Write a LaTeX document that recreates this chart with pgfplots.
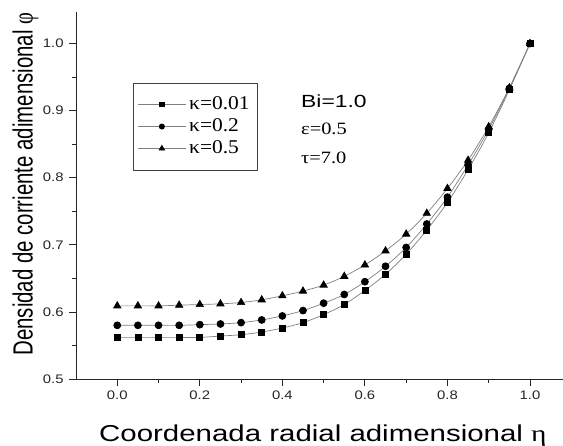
\documentclass[border=0pt]{standalone}
\usepackage{graphicx}
\usepackage{pgfplots}
\pgfplotsset{compat=1.18}
\usepackage{fontspec}
\setmainfont{Liberation Sans}
\newfontfamily\serif{Liberation Serif}

\pgfplotstableread{
x     s     c     t
0.00  0.562 0.580 0.609
0.05  0.562 0.580 0.609
0.10  0.562 0.580 0.609
0.15  0.562 0.580 0.610
0.20  0.562 0.581 0.611
0.25  0.564 0.582 0.612
0.30  0.566 0.584 0.614
0.35  0.570 0.588 0.618
0.40  0.576 0.594 0.624
0.45  0.584 0.602 0.631
0.50  0.596 0.613 0.640
0.55  0.611 0.626 0.653
0.60  0.632 0.645 0.670
0.65  0.656 0.668 0.691
0.70  0.686 0.696 0.716
0.75  0.722 0.731 0.747
0.80  0.763 0.771 0.784
0.85  0.812 0.819 0.826
0.90  0.867 0.872 0.876
0.95  0.931 0.933 0.934
1.00  1.000 1.000 1.000
}\data

\begin{document}
\begin{tikzpicture}
\begin{axis}[
  at={(0,0)}, anchor=south west,
  scale only axis, width=487pt, height=367pt,
  xmin=-0.1, xmax=1.08, ymin=0.5, ymax=1.047,
  axis lines=left,
  axis line style={-, line width=0.8pt, black!85},
  xtick={0,0.2,0.4,0.6,0.8,1.0},
  minor xtick={0.1,0.3,0.5,0.7,0.9},
  ytick={0.5,0.6,0.7,0.8,0.9,1.0},
  minor ytick={0.55,0.65,0.75,0.85,0.95},
  tick align=outside,
  major tick length=7pt, minor tick length=4pt,
  every tick/.style={black!85, line width=0.8pt},
  /pgf/number format/.cd, fixed, fixed zerofill, precision=1, assume math mode=true,
  /pgfplots/.cd,
  ticklabel style={font=\fontsize{12.4}{14}\selectfont, text=black!85, xscale=1.2},
  xticklabel style={yshift=-1.5pt},
  yticklabel style={xshift=-1pt},
  every axis x label/.style={at={(axis description cs:0.507,-0.171)}, anchor=base},
  every axis y label/.style={at={(axis description cs:-0.1037,0.531)}, anchor=center, rotate=90},
  xlabel={\scalebox{1.28}[1]{\fontsize{23}{26}\selectfont Coordenada radial adimensional {\serif η}}},
  ylabel={\scalebox{1}[1.36]{\fontsize{20.4}{24}\selectfont Densidad de corriente adimensional {\serif φ}}},
  legend image code/.code={%
    \draw[mark repeat=2,mark phase=2,every mark/.append style={scale=0.75}]
      plot coordinates {(0pt,0pt) (24pt,0pt) (48pt,0pt)};},
  legend style={at={(axis description cs:0.1164,0.8074)}, anchor=north west,
    draw=black!75, line width=0.7pt, inner xsep=4.5pt, inner ysep=10.5pt,
    font=\serif\fontsize{19.5}{22}\selectfont,
    row sep=0pt,
    nodes={inner xsep=3pt, inner ysep=0pt, text height=15.7pt, text depth=6.3pt}},
  legend cell align=left,
]
\addplot[smooth, draw=black!50, line width=0.7pt, mark=square*, mark size=3pt,
  mark options={draw=black, fill=black}] table[x=x, y=s] {\data};
\addlegendentry{\scalebox{1.1}[1]{κ=0.01}}
\addplot[smooth, draw=black!50, line width=0.7pt, mark=*, mark size=3.5pt,
  mark options={draw=black, fill=black}] table[x=x, y=c] {\data};
\addlegendentry{\scalebox{1.1}[1]{κ=0.2}}
\addplot[smooth, draw=black!50, line width=0.7pt, mark=triangle*, mark size=4.2pt,
  mark options={draw=black, fill=black}] table[x=x, y=t] {\data};
\addlegendentry{\scalebox{1.1}[1]{κ=0.5}}
\node[anchor=base west, inner sep=0pt, font=\fontsize{17.6}{20}\selectfont] at (axis description cs:0.462,0.7403) {\scalebox{1.3}[1]{Bi=1.0}};
\node[anchor=base west, inner sep=0pt, font=\serif\fontsize{17.3}{20}\selectfont] at (axis description cs:0.462,0.6649) {\scalebox{1.18}[1]{ε=0.5}};
\node[anchor=base west, inner sep=0pt, font=\serif\fontsize{17.3}{20}\selectfont] at (axis description cs:0.462,0.5877) {\scalebox{1.18}[1]{τ=7.0}};
\end{axis}
\pgfresetboundingbox
\path (-76pt,-67pt) rectangle (487pt,379pt);
\end{tikzpicture}
\end{document}
